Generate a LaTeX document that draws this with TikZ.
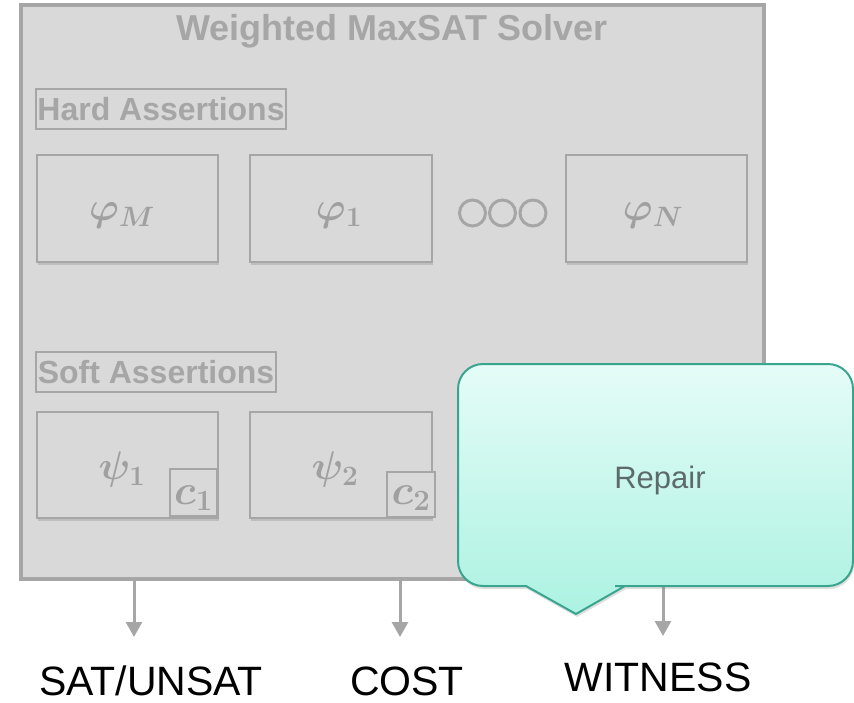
\RequirePackage{fix-cm}
\documentclass[tikz,border=0pt]{standalone}
\usepackage[no-math]{fontspec}
\setmainfont{Liberation Sans}
\usetikzlibrary{arrows.meta,shadows}

\definecolor{boxgray}{HTML}{A6A6A6}
\definecolor{mathgray}{HTML}{A0A0A0}
\definecolor{fillgray}{HTML}{D9D9D9}
\definecolor{calloutTop}{HTML}{E5FCF7}
\definecolor{calloutBot}{HTML}{ACF2E2}
\definecolor{calloutEdge}{HTML}{3AA58F}
\definecolor{repairText}{HTML}{5C6A6C}

\begin{document}
\begin{tikzpicture}[x=1pt,y=-1pt,
  solverbox/.style={draw=boxgray, line width=4pt, fill=fillgray, inner sep=0pt},
  clausebox/.style={draw=boxgray, line width=2pt, fill=fillgray, inner sep=0pt,
    drop shadow={shadow xshift=1pt, shadow yshift=-2.5pt, opacity=0.3}},
  tagbox/.style={draw=boxgray, line width=1.6pt, inner sep=0pt, text=boxgray,
    font=\bfseries\fontsize{32}{36}\selectfont},
  weightbox/.style={draw=boxgray, line width=1.6pt, fill=fillgray, inner sep=0pt},
  mathtxt/.style={text=mathgray, inner sep=0pt, font=\boldmath\fontsize{40}{44}\selectfont},
  ring/.style={circle, draw=boxgray, line width=3pt, minimum size=26pt, inner sep=0pt},
  outarrow/.style={draw=boxgray, line width=3pt, -{Triangle[width=16pt,length=15pt]}},
  outlabel/.style={anchor=base, inner sep=0pt, text=black, font=\fontsize{41}{48}\selectfont},
  callout/.style={top color=calloutTop, bottom color=calloutBot, draw=calloutEdge,
    line width=2pt, drop shadow={shadow xshift=1pt, shadow yshift=-3pt, opacity=0.25}}
]
\useasboundingbox (0,0) rectangle (854,702);

% solver frame and title
\node[solverbox, minimum width=743pt, minimum height=574pt] (solver) at (392,292) {};
\node[anchor=base, inner sep=0pt, text=boxgray, font=\bfseries\fontsize{36}{42}\selectfont]
  (title) at (392,40) {Weighted MaxSAT Solver};

% hard assertions
\node[tagbox, minimum width=250pt, minimum height=40pt] (hard) at (161,109) {Hard Assertions};
\node[clausebox, minimum width=181pt, minimum height=107pt] (phiM) at (127.5,208.5) {};
\node[clausebox, minimum width=182pt, minimum height=107pt] (phi1) at (341,208.5) {};
\node[clausebox, minimum width=181pt, minimum height=107pt] (phiN) at (656.5,208.5) {};
\node[mathtxt] (phiMtxt) at (122,215) {$\varphi_{M}$};
\node[mathtxt] (phi1txt) at (339,215) {$\varphi_{1}$};
\node[mathtxt] (phiNtxt) at (653,215) {$\varphi_{N}$};
\node[ring] (o1) at (472.5,213) {};
\node[ring] (o2) at (502.5,213) {};
\node[ring] (o3) at (533,213) {};

% soft assertions with their weights
\node[tagbox, minimum width=240pt, minimum height=40pt] (soft) at (156,372) {Soft Assertions};
\node[clausebox, minimum width=181pt, minimum height=106pt] (psi1) at (127.5,465) {};
\node[clausebox, minimum width=182pt, minimum height=106pt] (psi2) at (341,465) {};
\node[mathtxt] (psi1txt) at (122,469) {$\psi_{1}$};
\node[mathtxt] (psi2txt) at (335,469) {$\psi_{2}$};
\node[weightbox, minimum width=47pt, minimum height=47pt] (c1) at (193.5,492.5) {};
\node[weightbox, minimum width=48pt, minimum height=45pt] (c2) at (411,494.5) {};
\node[mathtxt, font=\boldmath\fontsize{42}{46}\selectfont] (c1txt) at (193.5,498) {$c_{1}$};
\node[mathtxt, font=\boldmath\fontsize{42}{46}\selectfont] (c2txt) at (411,498) {$c_{2}$};

% outputs
\coordinate (satend) at (134,637);
\coordinate (costend) at (400,637);
\coordinate (witend) at (663,636);
\draw[outarrow] (solver.south -| satend) -- (satend);
\draw[outarrow] (solver.south -| costend) -- (costend);
\draw[outarrow] (solver.south -| witend) -- (witend);
\node[outlabel] (sat) at (151,695) {SAT/UNSAT};
\node[outlabel] (cost) at (407,695) {COST};
\node[outlabel] (wit) at (658,691) {WITNESS};

% repair callout
\path[callout] (458,475) [rounded corners=25pt] -- (458,364) -- (853,364) -- (853,586)
  -- (640,586) [sharp corners] -- (625,586) -- (576,614) -- (526,586) -- (511,586)
  [rounded corners=25pt] -- (458,586) -- cycle;
\node[inner sep=0pt, text=repairText, font=\fontsize{31}{36}\selectfont] (repair) at (660,480) {Repair};
\end{tikzpicture}
\end{document}
